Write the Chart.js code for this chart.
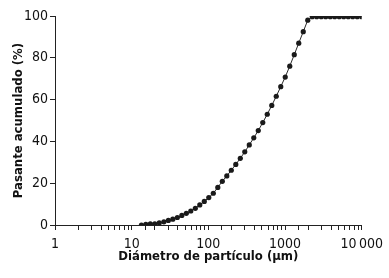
<!DOCTYPE html>
<html>
<head>
<meta charset="utf-8">
<script src="https://cdn.jsdelivr.net/npm/chart.js@4.4.1/dist/chart.umd.min.js"></script>
<style>
  html, body { margin: 0; padding: 0; background: #fff; }
  #chart { display: block; }
</style>
</head>
<body>
<canvas id="chart" width="389" height="278"></canvas>
<script>
// particle diameter (um) and cumulative passing (%)
var diameters = [13.4, 15.3, 17.5, 20.0, 22.9, 26.3, 30.1, 34.4, 39.4, 45.1,
  51.6, 59.0, 67.6, 77.3, 88.5, 101.3, 116, 132.8, 152, 174,
  199.1, 227.9, 260.9, 298.5, 341.7, 391.2, 447.7, 512.5, 586.6, 671.4,
  768.5, 879.6, 1006, 1152, 1319, 1509, 1728, 1978, 2264, 2591,
  2965, 3394, 3885, 4446, 5089, 5825, 6667, 7631, 8734, 10000];
var passing = [0, 0.3, 0.5, 0.6, 1.0, 1.5, 2.2, 2.8, 3.6, 4.6,
  5.6, 6.7, 8.0, 9.6, 11.3, 13.1, 15.2, 18.0, 20.9, 23.5,
  26.2, 29.0, 31.9, 35.0, 38.3, 41.7, 45.2, 49.0, 53.0, 57.2,
  61.6, 66.2, 70.8, 76.0, 81.5, 87.0, 92.5, 98.0, 99.7, 99.7,
  99.7, 99.7, 99.7, 99.7, 99.7, 99.7, 99.7, 99.7, 99.7, 99.7];
var xLabels = { 1: "1", 10: "10", 100: "100", 1000: "1000", 10000: "10\u2009000" };
var yTicks = [0, 20, 40, 60, 80, 100];

var fontFam = "'DejaVu Sans Condensed', 'Liberation Sans Narrow', sans-serif";

var pts = [];
for (var i = 0; i < diameters.length; i++) {
  pts.push({ x: diameters[i], y: passing[i] });
}

var ctx = document.getElementById("chart").getContext("2d");
var chart = new Chart(ctx, {
  type: "scatter",
  data: {
    datasets: [{
      data: pts,
      showLine: true,
      borderColor: "#2a2a2a",
      borderWidth: 1,
      pointRadius: 2.6,
      pointBackgroundColor: "#1a1a1a",
      pointBorderWidth: 0
    }]
  },
  options: {
    responsive: false,
    animation: false,
    layout: { padding: { top: 16, right: 25, left: 0, bottom: 0 } },
    plugins: { legend: { display: false }, tooltip: { enabled: false } },
    scales: {
      x: {
        type: "logarithmic",
        min: 1,
        max: 10000,
        afterFit: function (scale) { scale.height = 53; },
        border: { color: "#222", width: 1 },
        grid: { drawOnChartArea: false, tickLength: 5, color: "#222" },
        ticks: {
          autoSkip: false,
          maxRotation: 0,
          padding: 6,
          color: "#111",
          font: { family: fontFam, size: 14 },
          callback: function (v) { return xLabels[v] !== undefined ? xLabels[v] : ""; }
        },
        title: {
          display: true,
          text: "Diámetro de partículo (µm)",
          color: "#111",
          font: { family: fontFam, size: 13, weight: "bold", lineHeight: 1.2 },
          padding: { top: 0, bottom: 14 }
        }
      },
      y: {
        min: 0,
        max: 100,
        afterFit: function (scale) { scale.width = 55; },
        afterBuildTicks: function (scale) {
          scale.ticks = yTicks.map(function (v) { return { value: v }; });
        },
        border: { color: "#222", width: 1 },
        grid: { drawOnChartArea: false, tickLength: 5, color: "#222" },
        ticks: {
          padding: 2,
          color: "#111",
          font: { family: fontFam, size: 14 }
        },
        title: {
          display: true,
          text: "Pasante acumulado (%)",
          color: "#111",
          font: { family: fontFam, size: 13, weight: "bold", lineHeight: 1.2 },
          padding: { top: 11, bottom: 0 }
        }
      }
    }
  }
});
</script>
</body>
</html>
